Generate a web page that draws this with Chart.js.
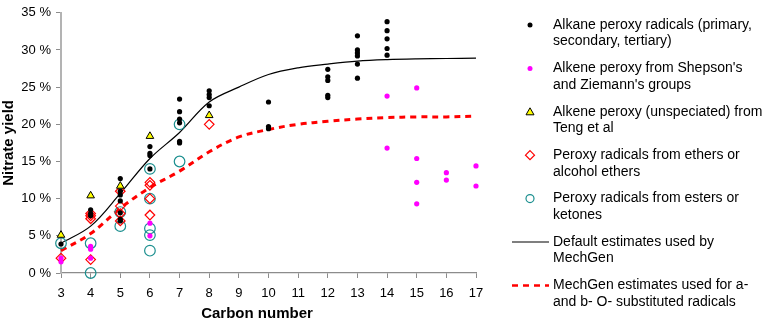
<!DOCTYPE html>
<html>
<head>
<meta charset="utf-8">
<script src="https://cdn.jsdelivr.net/npm/chart.js@4.4.1/dist/chart.umd.min.js"></script>
<style>
  html, body { margin: 0; padding: 0; background: #fff; }
  #wrap { width: 767px; height: 321px; }
</style>
</head>
<body>
<div id="wrap"><canvas id="chart" width="767" height="321"></canvas></div>
<script>
// carbon numbers and nitrate yields (%) per series
const alkaneX = [3, 4, 4, 4, 5, 5, 5, 5, 5, 5, 5, 6, 6, 6, 6, 7, 7, 7, 7, 7, 7, 8, 8, 8, 8, 10, 10, 10, 12, 12, 12, 12, 12, 13, 13, 13, 13, 13, 13, 14, 14, 14, 14, 14];
const alkaneY = [3.9, 8.5, 8.0, 7.7, 12.7, 11.0, 10.5, 9.7, 8.1, 7.2, 7.0, 17.0, 16.1, 15.8, 14.0, 23.4, 21.7, 20.7, 20.2, 17.7, 17.5, 24.5, 24.0, 23.6, 22.5, 23.0, 19.7, 19.4, 27.4, 26.4, 25.9, 23.9, 23.6, 31.9, 30.0, 29.6, 29.2, 28.1, 26.2, 33.8, 32.6, 31.5, 30.2, 29.3];

const alkeneX = [3, 3, 4, 4, 4, 6, 6, 14, 14, 15, 15, 15, 15, 16, 16, 17, 17];
const alkeneY = [1.5, 2.0, 3.6, 3.2, 2.0, 6.7, 5.0, 23.8, 16.8, 24.9, 15.4, 12.2, 9.3, 13.5, 12.5, 14.4, 11.7];

const tengX = [3, 4, 5, 6, 8];
const tengY = [5.1, 10.4, 11.7, 18.4, 21.2];

const etherX = [3, 4, 4, 4, 4, 5, 5, 5, 5, 6, 6, 6, 6, 8];
const etherY = [2.0, 8.0, 7.7, 7.3, 1.8, 11.0, 9.0, 8.0, 7.0, 12.2, 11.8, 10.0, 7.8, 20.0];

const esterX = [3, 4, 4, 5, 5, 6, 6, 6, 6, 6, 7, 7];
const esterY = [4.0, 4.0, 0.0, 8.2, 6.3, 14.0, 10.0, 6.0, 5.1, 3.0, 20.0, 15.0];

// estimate curves
const curveX = [3, 4, 5, 6, 7, 8, 9, 10, 11, 12, 13, 14, 15, 16, 17, 17.25];
const defaultY = [4.0, 6.3, 10.7, 15.4, 18.9, 23.0, 25.0, 26.7, 27.6, 28.1, 28.5, 28.7, 28.8, 28.85, 28.9, 28.9];
const oSubY = [3.0, 5.3, 8.7, 11.5, 13.7, 16.3, 18.3, 19.3, 20.0, 20.4, 20.7, 20.9, 21.0, 21.0, 21.1, null];

const seriesNames = [
  ['Alkane peroxy radicals (primary,', 'secondary, tertiary)'],
  ["Alkene peroxy from Shepson's", "and Ziemann's groups"],
  ['Alkene peroxy (unspeciated) from', 'Teng et al'],
  ['Peroxy radicals from ethers or', 'alcohol ethers'],
  ['Peroxy radicals from esters or', 'ketones'],
  ['Default estimates used by', 'MechGen'],
  ['MechGen estimates used for a-', 'and b- O- substituted radicals']
];

const xTicks = [3, 4, 5, 6, 7, 8, 9, 10, 11, 12, 13, 14, 15, 16, 17];
const xTitle = 'Carbon number';

function pts(xs, ys) {
  return xs.map((x, i) => ({ x: x, y: ys[i] }));
}

const FONT = "'Liberation Sans', Arial, sans-serif";

const legendPlugin = {
  id: 'sideLegend',
  afterDraw(chart) {
    const ctx = chart.ctx;
    const x0 = 553, y0 = 25, step = 43.4, lh = 16.6;
    ctx.save();

    // x axis title, Excel puts it a bit left of the plot centre
    ctx.font = 'bold 15px ' + FONT;
    ctx.fillStyle = '#000';
    ctx.textAlign = 'center';
    ctx.textBaseline = 'middle';
    ctx.fillText(xTitle, 257, 314);

    ctx.textAlign = 'left';
    ctx.font = '14px ' + FONT;
    chart.data.datasets.forEach((ds, i) => {
      const y = y0 + i * step;
      ctx.fillStyle = '#000';
      seriesNames[i].forEach((t, j) => ctx.fillText(t, x0, y + j * lh));
      const mx = 530;
      ctx.beginPath();
      if (ds.legendKind === 'line') {
        ctx.strokeStyle = ds.borderColor;
        ctx.lineWidth = ds.legendWidth;
        ctx.setLineDash(ds.borderDash || []);
        ctx.moveTo(512, y);
        ctx.lineTo(549, y);
        ctx.stroke();
        ctx.setLineDash([]);
      } else if (ds.pointStyle === 'circle' && ds.legendFill) {
        ctx.fillStyle = ds.pointBackgroundColor;
        ctx.arc(mx, y, 2.5, 0, Math.PI * 2);
        ctx.fill();
      } else if (ds.pointStyle === 'circle') {
        ctx.strokeStyle = ds.pointBorderColor;
        ctx.lineWidth = 1.2;
        ctx.arc(mx, y, 4, 0, Math.PI * 2);
        ctx.stroke();
      } else if (ds.pointStyle === 'triangle') {
        ctx.fillStyle = ds.pointBackgroundColor;
        ctx.strokeStyle = '#000';
        ctx.lineWidth = 1;
        ctx.moveTo(mx, y - 4);
        ctx.lineTo(mx + 4, y + 3);
        ctx.lineTo(mx - 4, y + 3);
        ctx.closePath();
        ctx.fill();
        ctx.stroke();
      } else if (ds.pointStyle === 'rectRot') {
        ctx.strokeStyle = ds.pointBorderColor;
        ctx.lineWidth = 1.2;
        ctx.moveTo(mx, y - 4.5);
        ctx.lineTo(mx + 4.5, y);
        ctx.lineTo(mx, y + 4.5);
        ctx.lineTo(mx - 4.5, y);
        ctx.closePath();
        ctx.stroke();
      }
    });
    ctx.restore();
  }
};

new Chart(document.getElementById('chart'), {
  type: 'scatter',
  data: {
    datasets: [
      {
        data: pts(alkaneX, alkaneY), pointStyle: 'circle', pointRadius: 2.6,
        pointBackgroundColor: '#000', pointBorderColor: '#000', pointBorderWidth: 0, legendFill: true
      },
      {
        data: pts(alkeneX, alkeneY), pointStyle: 'circle', pointRadius: 2.6,
        pointBackgroundColor: '#ff00ff', pointBorderColor: '#ff00ff', pointBorderWidth: 0, legendFill: true
      },
      {
        data: pts(tengX, tengY), pointStyle: 'triangle', pointRadius: 4.4,
        pointBackgroundColor: '#ffff00', pointBorderColor: '#000', pointBorderWidth: 1
      },
      {
        data: pts(etherX, etherY), pointStyle: 'rectRot', pointRadius: 4.8,
        pointBackgroundColor: 'rgba(255,255,255,0)', pointBorderColor: '#ff0000', pointBorderWidth: 1.2
      },
      {
        data: pts(esterX, esterY), pointStyle: 'circle', pointRadius: 5.3,
        pointBackgroundColor: 'rgba(255,255,255,0)', pointBorderColor: '#1b8f8f', pointBorderWidth: 1.2
      },
      {
        data: pts(curveX, defaultY), showLine: true, pointRadius: 0, tension: 0.35,
        borderColor: '#000', borderWidth: 1.2, legendKind: 'line', legendWidth: 1.2
      },
      {
        data: pts(curveX, oSubY), showLine: true, pointRadius: 0, tension: 0.35,
        borderColor: '#ff0000', borderWidth: 3, borderDash: [6, 5], legendKind: 'line', legendWidth: 2.5
      }
    ]
  },
  options: {
    responsive: false,
    animation: false,
    clip: false,
    layout: { padding: { top: 5, right: 291, left: 0, bottom: 0 } },
    plugins: { legend: { display: false }, tooltip: { enabled: false } },
    scales: {
      x: {
        type: 'linear', min: 3, max: 17,
        afterBuildTicks: s => { s.ticks = xTicks.map(v => ({ value: v })); },
        afterFit: s => { s.height = 48; },
        border: { color: '#8c8c8c', width: 1.3 },
        grid: { drawOnChartArea: false, color: '#8c8c8c', tickLength: 5 },
        ticks: { color: '#000', font: { size: 13, family: FONT }, padding: 8 }
      },
      y: {
        min: 0, max: 35,
        afterFit: s => { s.width = 61; },
        border: { color: '#b3b3b3', width: 2 },
        grid: { drawOnChartArea: false, color: '#8c8c8c', tickLength: 5 },
        ticks: {
          stepSize: 5, color: '#000', font: { size: 13, family: FONT }, padding: 5,
          callback: v => v + ' %'
        },
        title: {
          display: true, text: 'Nitrate yield', color: '#000',
          font: { size: 15, weight: 'bold', family: FONT }, padding: { top: 0, bottom: 4 }
        }
      }
    }
  },
  plugins: [legendPlugin]
});
</script>
</body>
</html>
